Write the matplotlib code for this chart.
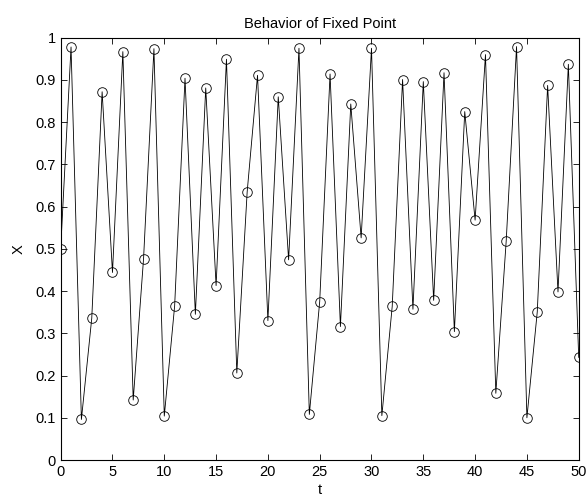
import matplotlib
matplotlib.use("Agg")
import matplotlib.pyplot as plt

t = list(range(51))
x = [0.500, 0.978, 0.096, 0.336, 0.872, 0.444, 0.967, 0.142, 0.477, 0.974,
     0.104, 0.365, 0.904, 0.345, 0.881, 0.413, 0.949, 0.206, 0.635, 0.911,
     0.330, 0.860, 0.474, 0.975, 0.108, 0.375, 0.914, 0.316, 0.843, 0.526,
     0.975, 0.105, 0.364, 0.901, 0.357, 0.896, 0.378, 0.917, 0.304, 0.825,
     0.568, 0.960, 0.158, 0.518, 0.979, 0.100, 0.351, 0.887, 0.398, 0.937,
     0.243]

plt.rcParams['font.family'] = ['Liberation Sans', 'DejaVu Sans']
plt.rcParams['font.size'] = 10.5

fig = plt.figure(figsize=(5.88, 4.98), dpi=100)
ax = fig.add_axes([0.1032, 0.0763, 0.881, 0.848])
ax.plot(t, x, '-o', color='k', linewidth=0.6, markersize=6.9,
        markerfacecolor='none', markeredgecolor='k', markeredgewidth=0.6)

ax.set_xlim(0, 50)
ax.set_ylim(0, 1)
ax.set_xticks(range(0, 51, 5))
ax.set_yticks([i / 10 for i in range(11)])
ax.set_yticklabels(['0', '0.1', '0.2', '0.3', '0.4', '0.5', '0.6', '0.7', '0.8', '0.9', '1'])
ax.tick_params(direction='in', top=True, right=True, length=4, width=0.6, pad=3.5)
for s in ax.spines.values():
    s.set_linewidth(0.8)

ax.set_title("Behavior of Fixed Point", fontsize=10.5, pad=7)
ax.set_xlabel("t", labelpad=3)
ax.set_ylabel("X", labelpad=7)

plt.savefig("out.png", dpi=100)
